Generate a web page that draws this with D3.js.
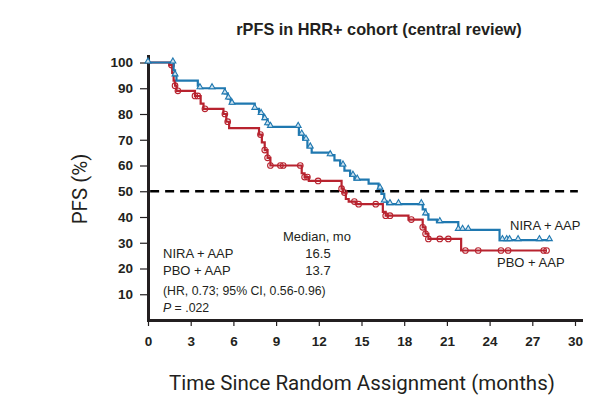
<!DOCTYPE html>
<html>
<head>
<meta charset="utf-8">
<script src="https://cdn.jsdelivr.net/npm/d3@7"></script>
<style>
  body { margin: 0; background: #fff; }
  svg { display: block; }
</style>
</head>
<body>
<div id="chart"></div>
<script>
// step points (time in months, PFS %)
var niraTimes = [0, 1.8, 1.9, 2.0, 3.5, 3.65, 5.4, 5.6, 5.8, 7.5, 7.8, 8.1, 8.4, 8.6, 10.6, 10.9, 11.2, 11.5, 12.8, 13.1, 13.5, 13.8, 14.2, 14.5, 15.5, 16.2, 16.4, 16.6, 16.8, 19.3, 19.5, 19.7, 20.3, 21.8, 24.7, 28.2];
var niraPfs = [100, 97, 95, 93, 91, 90, 88, 86, 84, 82, 80, 78, 76, 75, 72, 70, 67, 65, 64, 62, 60, 58, 56, 54.5, 53, 51, 49, 46, 45, 43, 41, 39, 38, 35, 31, 31];
var niraCensor = [0, 1.75, 1.9, 3.65, 4.5, 5.4, 5.65, 5.9, 7.5, 7.95, 8.2, 8.4, 8.6, 10.55, 10.8, 11.1, 11.4, 12.8, 13.7, 14.4, 14.7, 16.3, 16.6, 17.0, 17.6, 19.2, 19.5, 20.5, 21.8, 22.1, 22.5, 24.9, 25.2, 25.4, 26.0, 27.5, 28.2];

var pboTimes = [0, 1.5, 1.7, 1.8, 1.9, 2.0, 3.3, 3.7, 3.9, 5.3, 5.5, 5.7, 7.8, 8.0, 8.2, 8.4, 8.6, 10.8, 11.0, 11.3, 13.6, 13.7, 13.9, 14.1, 14.6, 16.5, 16.7, 18.3, 19.3, 19.5, 19.7, 22.0, 28.0];
var pboPfs = [100, 99, 96, 93, 91, 89, 87, 84, 82, 80, 77, 74.5, 72, 69, 66, 63, 60, 57, 55.5, 54, 51, 49.5, 47, 46, 45, 42, 40.5, 39, 36, 33.5, 31.5, 27, 27];
var pboCensor = [1.65, 1.9, 2.1, 3.3, 3.5, 4.0, 5.4, 5.6, 7.9, 8.2, 8.4, 8.6, 9.3, 9.5, 10.7, 11.0, 11.2, 11.95, 13.6, 13.8, 14.5, 14.8, 16.0, 16.7, 17.0, 18.5, 19.3, 19.5, 19.7, 20.5, 21.1, 22.3, 23.2, 24.8, 25.3, 27.8, 28.0];

var xTicks = [0, 3, 6, 9, 12, 15, 18, 21, 24, 27, 30];
var yTicks = [10, 20, 30, 40, 50, 60, 70, 80, 90, 100];

var blue = "#1f78b0";
var red = "#b8232f";
var ink = "#231f20";

var svg = d3.select("#chart").append("svg")
  .attr("width", 600)
  .attr("height", 398);

var x = d3.scaleLinear().domain([0, 30]).range([148, 575]);
var y = d3.scaleLinear().domain([0, 100]).range([320, 62.5]);

// title
svg.append("text")
  .attr("x", 379).attr("y", 35)
  .attr("text-anchor", "middle")
  .style("font-family", "Liberation Sans, Arial, sans-serif")
  .style("font-weight", "bold")
  .style("font-size", "16.3px")
  .attr("fill", ink)
  .text("rPFS in HRR+ cohort (central review)");

// axes
var xAxis = d3.axisBottom(x).tickValues(xTicks).tickSize(6).tickPadding(10);
var yAxis = d3.axisLeft(y).tickValues(yTicks).tickSize(8).tickPadding(7);

var gx = svg.append("g").attr("transform", "translate(0,320)").call(xAxis);
var gy = svg.append("g").attr("transform", "translate(148,0)").call(yAxis);

[gx, gy].forEach(function (g) {
  g.select(".domain").remove();
  g.selectAll("line").attr("stroke", ink).attr("stroke-width", 1.2);
  g.selectAll("text")
    .attr("fill", ink)
    .style("font-family", "Liberation Sans, Arial, sans-serif")
    .style("font-weight", "bold")
    .style("font-size", "13.5px");
});

// axis lines
svg.append("path")
  .attr("d", "M148.5,55V320.5H583")
  .attr("fill", "none")
  .attr("stroke", ink)
  .attr("stroke-width", 3);

// axis titles
svg.append("text")
  .attr("x", 362).attr("y", 390)
  .attr("text-anchor", "middle")
  .style("font-family", "Roboto, sans-serif")
  .style("font-size", "20.5px")
  .attr("fill", ink)
  .text("Time Since Random Assignment (months)");

svg.append("text")
  .attr("transform", "translate(87,189) rotate(-90)")
  .attr("text-anchor", "middle")
  .style("font-family", "Roboto, sans-serif")
  .style("font-size", "20.5px")
  .attr("fill", ink)
  .text("PFS (%)");

// median line
svg.append("line")
  .attr("x1", x(0.15)).attr("x2", x(30.2))
  .attr("y1", y(50)).attr("y2", y(50))
  .attr("stroke", "#000")
  .attr("stroke-width", 2.6)
  .attr("stroke-dasharray", "9,6");

function drawCurve(times, vals, censor, color, shape) {
  var pts = times.map(function (t, i) { return [t, vals[i]]; });
  var line = d3.line()
    .x(function (d) { return x(d[0]); })
    .y(function (d) { return y(d[1]); })
    .curve(d3.curveStepAfter);

  svg.append("path")
    .datum(pts)
    .attr("d", line)
    .attr("fill", "none")
    .attr("stroke", color)
    .attr("stroke-width", 2.2);

  var at = function (t) {
    var i = d3.bisectRight(times, t) - 1;
    return vals[Math.max(0, i)];
  };

  var marks = svg.append("g");
  if (shape === "circle") {
    marks.selectAll("circle").data(censor).enter().append("circle")
      .attr("cx", function (d) { return x(d); })
      .attr("cy", function (d) { return y(at(d)); })
      .attr("r", 2.8)
      .attr("fill", "none")
      .attr("stroke", color)
      .attr("stroke-width", 1.1);
  } else {
    var tri = d3.symbol().type(d3.symbolTriangle).size(15);
    marks.selectAll("path").data(censor).enter().append("path")
      .attr("d", tri)
      .attr("transform", function (d) { return "translate(" + x(d) + "," + (y(at(d)) - 1.2) + ")"; })
      .attr("fill", "#cfe3f0")
      .attr("stroke", color)
      .attr("stroke-width", 1.1);
  }
}

drawCurve(pboTimes, pboPfs, pboCensor, red, "circle");
drawCurve(niraTimes, niraPfs, niraCensor, blue, "triangle");

// curve labels
var lab = { family: "Liberation Sans, Arial, sans-serif", size: "13px" };
svg.append("text").attr("x", 510).attr("y", 230)
  .style("font-family", lab.family).style("font-size", lab.size).attr("fill", ink)
  .text("NIRA + AAP");
svg.append("text").attr("x", 497).attr("y", 267)
  .style("font-family", lab.family).style("font-size", lab.size).attr("fill", ink)
  .text("PBO + AAP");

// median annotation
var ann = svg.append("g")
  .style("font-family", lab.family)
  .style("font-size", lab.size)
  .attr("fill", ink);
ann.append("text").attr("x", 283).attr("y", 241).text("Median, mo");
ann.append("text").attr("x", 163).attr("y", 258).text("NIRA + AAP");
ann.append("text").attr("x", 318).attr("y", 258).attr("text-anchor", "middle").text("16.5");
ann.append("text").attr("x", 163).attr("y", 275).text("PBO + AAP");
ann.append("text").attr("x", 318).attr("y", 275).attr("text-anchor", "middle").text("13.7");
ann.append("text").attr("x", 163).attr("y", 295).style("font-size", "12.3px")
  .text("(HR, 0.73; 95% CI, 0.56-0.96)");
var p = ann.append("text").attr("x", 163).attr("y", 312).style("font-size", "12.3px");
p.append("tspan").style("font-style", "italic").text("P");
p.append("tspan").text(" = .022");
</script>
</body>
</html>
